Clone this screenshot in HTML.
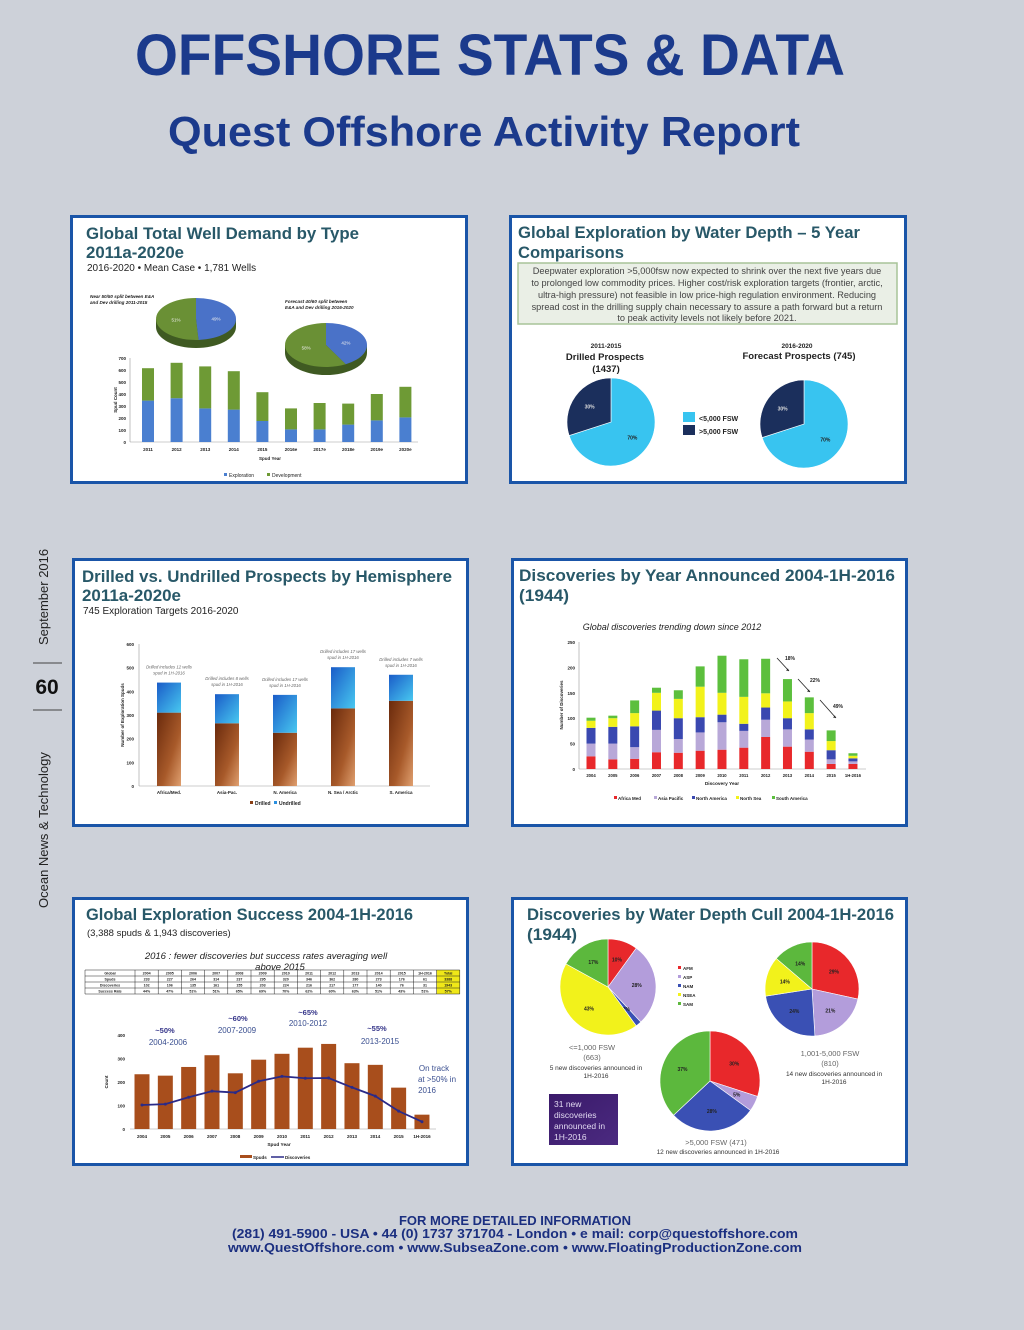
<!DOCTYPE html>
<html><head><meta charset="utf-8"><style>
html,body{margin:0;padding:0;background:#cdd1d9;}
svg{display:block;font-family:"Liberation Sans",sans-serif;}
</style></head><body>
<svg id="pg" width="1024" height="1330" viewBox="0 0 1024 1330" xmlns="http://www.w3.org/2000/svg">
<defs>
<linearGradient id="gDr" x1="0" x2="1" y1="0" y2="1"><stop offset="0" stop-color="#6a2a0c"/><stop offset="0.6" stop-color="#a85a2a"/><stop offset="1" stop-color="#e0a070"/></linearGradient>
<linearGradient id="gUn" x1="0" x2="1" y1="0" y2="1"><stop offset="0" stop-color="#1a5cc8"/><stop offset="1" stop-color="#48c8f0"/></linearGradient>
<linearGradient id="gPurple" x1="0" x2="1" y1="0" y2="1"><stop offset="0" stop-color="#3a1a6a"/><stop offset="1" stop-color="#4b2a80"/></linearGradient>
</defs>
<rect width="1024" height="1330" fill="#cdd1d9"/>
<text x="135" y="75" textLength="710" lengthAdjust="spacingAndGlyphs" font-size="58" font-weight="bold" fill="#1b3a8c">OFFSHORE STATS &amp; DATA</text>
<text x="168" y="146" textLength="632" lengthAdjust="spacingAndGlyphs" font-size="42" font-weight="bold" fill="#1b3a8c">Quest Offshore Activity Report</text>

<g>
<text transform="translate(48,645) rotate(-90)" font-size="13" fill="#222">September 2016</text>
<line x1="33" y1="663" x2="62" y2="663" stroke="#444" stroke-width="1"/>
<text x="47" y="694" text-anchor="middle" font-size="21" font-weight="bold" fill="#111">60</text>
<line x1="33" y1="710" x2="62" y2="710" stroke="#444" stroke-width="1"/>
<text transform="translate(48,908) rotate(-90)" font-size="13" fill="#222">Ocean News &amp; Technology</text>
</g>

<!-- panels -->
<rect x="71.5" y="216.5" width="395" height="266" fill="#fff" stroke="#1a55a8" stroke-width="3"/>
<rect x="510.5" y="216.5" width="395" height="266" fill="#fff" stroke="#1a55a8" stroke-width="3"/>
<rect x="73.5" y="559.5" width="394" height="266" fill="#fff" stroke="#1a55a8" stroke-width="3"/>
<rect x="512.5" y="559.5" width="394" height="266" fill="#fff" stroke="#1a55a8" stroke-width="3"/>
<rect x="73.5" y="898.5" width="394" height="266" fill="#fff" stroke="#1a55a8" stroke-width="3"/>
<rect x="512.5" y="898.5" width="394" height="266" fill="#fff" stroke="#1a55a8" stroke-width="3"/>

<!-- panel titles -->
<g font-weight="bold" fill="#285868" font-size="17">
<text x="86" y="239" textLength="273" lengthAdjust="spacingAndGlyphs">Global Total Well Demand by Type</text>
<text x="86" y="258" textLength="98" lengthAdjust="spacingAndGlyphs">2011a-2020e</text>
<text x="518" y="238" textLength="342" lengthAdjust="spacingAndGlyphs">Global Exploration by Water Depth – 5 Year</text>
<text x="518" y="258" textLength="106" lengthAdjust="spacingAndGlyphs">Comparisons</text>
<text x="82" y="582" textLength="370" lengthAdjust="spacingAndGlyphs">Drilled vs. Undrilled Prospects by Hemisphere</text>
<text x="82" y="601" textLength="99" lengthAdjust="spacingAndGlyphs">2011a-2020e</text>
<text x="519" y="581" textLength="376" lengthAdjust="spacingAndGlyphs">Discoveries by Year Announced 2004-1H-2016</text>
<text x="519" y="601" textLength="50" lengthAdjust="spacingAndGlyphs">(1944)</text>
<text x="86" y="920" textLength="327" lengthAdjust="spacingAndGlyphs">Global Exploration Success 2004-1H-2016</text>
<text x="527" y="920" textLength="367" lengthAdjust="spacingAndGlyphs">Discoveries by Water Depth Cull 2004-1H-2016</text>
<text x="527" y="940" textLength="50" lengthAdjust="spacingAndGlyphs">(1944)</text>
</g>
<g fill="#222" font-size="10">
<text x="87" y="271">2016-2020 • Mean Case • 1,781 Wells</text>
<text x="83" y="614">745 Exploration Targets 2016-2020</text>
<text x="87" y="936" font-size="9.5">(3,388 spuds &amp; 1,943 discoveries)</text>
</g>

<!-- chart2 text box -->
<g>
<rect x="518" y="263" width="379" height="61" fill="#eaefe6" stroke="#a8c498" stroke-width="1.5"/>
<g font-size="9.2" fill="#444" text-anchor="middle">
<text x="707" y="274">Deepwater exploration &gt;5,000fsw now expected to shrink over the next five years due</text>
<text x="707" y="286">to prolonged low commodity prices. Higher cost/risk exploration targets (frontier, arctic,</text>
<text x="707" y="298">ultra-high pressure) not feasible in low price-high regulation environment. Reducing</text>
<text x="707" y="310">spread cost in the drilling supply chain necessary to assure a path forward but a return</text>
<text x="707" y="321">to peak activity levels not likely before 2021.</text>
</g></g>
<g text-anchor="middle" font-weight="bold" fill="#222">
<text x="606" y="348" font-size="6.5">2011-2015</text>
<text x="605" y="360" font-size="9.5">Drilled Prospects</text>
<text x="606" y="372" font-size="9.5">(1437)</text>
<text x="797" y="348" font-size="6.5">2016-2020</text>
<text x="799" y="359" font-size="9.5">Forecast Prospects (745)</text>
</g>
<g>
<rect x="683" y="412" width="12" height="10" fill="#38c4f0"/>
<text x="699" y="421" font-size="7" font-weight="bold" fill="#222">&lt;5,000 FSW</text>
<rect x="683" y="425" width="12" height="10" fill="#1b2f5c"/>
<text x="699" y="434" font-size="7" font-weight="bold" fill="#222">&gt;5,000 FSW</text>
</g>

<!-- chart5 text -->
<text x="266" y="959" text-anchor="middle" font-size="9.5" font-style="italic" fill="#222">2016 : fewer discoveries but success rates averaging well</text>
<text x="280" y="970" text-anchor="middle" font-size="9.5" font-style="italic" fill="#222">above 2015</text>
<g id="tbl"></g>

<g id="charts"></g>

<!-- chart6 extras -->
<g font-size="6.5" fill="#333" text-anchor="middle">
<text x="592" y="1050" font-size="7.5" fill="#666">&lt;=1,000 FSW</text>
<text x="592" y="1060" font-size="7.5" fill="#666">(663)</text>
<text x="596" y="1070">5 new discoveries announced in</text>
<text x="596" y="1078">1H-2016</text>
<text x="830" y="1056" font-size="7.5" fill="#666">1,001-5,000 FSW</text>
<text x="830" y="1066" font-size="7.5" fill="#666">(810)</text>
<text x="834" y="1076">14 new discoveries announced in</text>
<text x="834" y="1084">1H-2016</text>
<text x="716" y="1145" font-size="7.5" fill="#666">&gt;5,000 FSW (471)</text>
<text x="718" y="1154">12 new discoveries announced in 1H-2016</text>
</g>
<g>
<rect x="549" y="1094" width="69" height="51" fill="url(#gPurple)"/>
<g font-size="8.5" fill="#e0d8f0"><text x="554" y="1107">31 new</text><text x="554" y="1118">discoveries</text><text x="554" y="1129">announced in</text><text x="554" y="1140">1H-2016</text></g>
</g>

<!-- footer -->
<g text-anchor="middle" font-weight="bold" fill="#1b2f80" font-size="13">
<text x="515" y="1225">FOR MORE DETAILED INFORMATION</text>
<text x="515" y="1238" textLength="566" lengthAdjust="spacingAndGlyphs">(281) 491-5900 - USA  •  44 (0) 1737 371704 - London  •  e mail: corp@questoffshore.com</text>
<text x="515" y="1252" textLength="574" lengthAdjust="spacingAndGlyphs">www.QuestOffshore.com  •  www.SubseaZone.com  •  www.FloatingProductionZone.com</text>
</g>
</svg>
<script>
// ---------- DATA ----------
const c1Years = ["2011","2012","2013","2014","2015","2016e","2017e","2018e","2019e","2020e"];
const c1Exploration = [345,365,280,270,175,105,105,145,180,205];
const c1Development = [270,295,350,320,240,175,220,175,220,255];
const c1Ticks = [0,100,200,300,400,500,600,700];
const c1Pie1 = [49,51];
const c1Pie2 = [42,58];

const c2Drilled = [70,30];
const c2Forecast = [70,30];

const c3Regions = ["Africa/Med.","Asia-Pac.","N. America","N. Sea / Arctic","S. America"];
const c3Drilled = [310,265,225,328,360];
const c3Undrilled = [127,123,160,174,110];
const c3Ticks = [0,100,200,300,400,500,600];
const c3Notes = [["Drilled includes 12 wells","spud in 1H-2016"],["Drilled includes 8 wells","spud in 1H-2016"],["Drilled includes 17 wells","spud in 1H-2016"],["Drilled includes 17 wells","spud in 1H-2016"],["Drilled includes 7 wells","spud in 1H-2016"]];

const c4Years = ["2004","2005","2006","2007","2008","2009","2010","2011","2012","2013","2014","2015","1H-2016"];
const c4Africa = [25,19,20,33,32,36,38,42,63,44,34,10,10];
const c4AsiaPac = [25,31,23,44,27,36,54,33,34,34,24,9,5];
const c4NAmerica = [31,33,41,38,41,30,15,14,24,22,20,18,6];
const c4NorthSea = [14,17,26,35,38,60,43,53,28,33,32,18,5];
const c4SAmerica = [6,5,25,10,17,40,73,74,68,44,31,21,5];
const c4Ticks = [0,50,100,150,200,250];
const c4SeriesNames = ["Africa Med","Asia Pacific","North America","North Sea","South America"];

const c5Years = ["2004","2005","2006","2007","2008","2009","2010","2011","2012","2013","2014","2015","1H-2016"];
const c5Spuds = [233,227,264,314,237,295,320,346,362,280,273,176,61];
const c5Discoveries = [102,106,135,161,155,203,224,216,217,177,140,76,31];
const c5Ticks = [0,100,200,300,400];
const c5Rates = ["44%","47%","51%","51%","65%","69%","70%","62%","60%","63%","51%","43%","51%"];

const c6Names = ["AFM","ASP","NAM","NSEA","SAM"];
const c6PieShallow = [10,28,2,43,17];
const c6PieMid = [29,21,24,14,14];
const c6PieDeep = [30,5,28,0,37];

// ---------- helpers ----------
const NS = "http://www.w3.org/2000/svg";
const root = document.getElementById('charts');
function el(tag, attrs, parent){
  const e = document.createElementNS(NS, tag);
  for (const k in attrs) e.setAttribute(k, attrs[k]);
  (parent || root).appendChild(e);
  return e;
}
function txt(x,y,s,size,extra,parent){
  const t = el('text', Object.assign({x:x,y:y,'font-size':size,fill:'#222'}, extra||{}), parent);
  t.textContent = s; return t;
}
function arcPath(cx,cy,rx,ry,a0,a1){
  const p0=[cx+rx*Math.sin(a0), cy-ry*Math.cos(a0)];
  const p1=[cx+rx*Math.sin(a1), cy-ry*Math.cos(a1)];
  const large = (a1-a0)>Math.PI?1:0;
  return `M${cx},${cy} L${p0[0]},${p0[1]} A${rx},${ry} 0 ${large} 1 ${p1[0]},${p1[1]} Z`;
}
function pie(cx,cy,r,vals,colors,labels,labelColors,parent,namePrefix,rStart){
  let a = rStart||0; const tot = vals.reduce((s,v)=>s+v,0);
  vals.forEach((v,i)=>{
    if (v<=0) return;
    const a1 = a + v/tot*2*Math.PI;
    const p = el('path',{d:arcPath(cx,cy,r,r,a,a1),fill:colors[i],stroke:'#fff','stroke-width':0.6},parent);
    
    
    if (labels){
      const m=(a+a1)/2;
      const t = txt(cx+r*0.6*Math.sin(m), cy-r*0.6*Math.cos(m)+2, labels[i], 5, {'text-anchor':'middle','font-weight':'bold',fill:labelColors?labelColors[i]:'#222'}, parent);
    }
    a = a1;
  });
}

// ---------- chart1 ----------
(function(){
  const g = el('g',{});
  
  
  const y0=442, h=84/700, x=i=>148+i*28.6, y=v=>y0-v*h;
  c1Ticks.forEach(t=>{ txt(126,y(t)+2,String(t),4.5,{'text-anchor':'end','font-weight':'bold'},g); });
  el('line',{x1:130,y1:y0,x2:418,y2:y0,stroke:'#999','stroke-width':0.6},g);
  el('line',{x1:130,y1:y(700),x2:130,y2:y0,stroke:'#999','stroke-width':0.6},g);
  c1Years.forEach((yr,i)=>{
    const b1=el('rect',{x:x(i)-6,y:y(c1Exploration[i]),width:12,height:c1Exploration[i]*h,fill:'#4a7fd0'},g);
    
    
    const tot=c1Exploration[i]+c1Development[i];
    const b2=el('rect',{x:x(i)-6,y:y(tot),width:12,height:c1Development[i]*h,fill:'#6e9a35'},g);
    
    
    txt(x(i),y0+9,yr,4.5,{'text-anchor':'middle','font-weight':'bold'},g);
  });
  txt(270,460,'Spud Year',4.5,{'text-anchor':'middle','font-weight':'bold'},g);
  txt(0,0,'Spud Count',4.5,{'text-anchor':'middle','font-weight':'bold',transform:'translate(117,400) rotate(-90)'},g);
  el('rect',{x:224,y:473,width:3,height:3,fill:'#4a7fd0'},g);
  txt(229,477,'Exploration',5,{},g);
  el('rect',{x:267,y:473,width:3,height:3,fill:'#6e9a35'},g);
  txt(272,477,'Development',5,{},g);
  // 3D pies
  function pie3d(cx,cy,rx,ry,vals,lbl){
    el('ellipse',{cx:cx,cy:cy+8,rx:rx,ry:ry,fill:'#3f5a22'},g);
    el('rect',{x:cx-rx,y:cy,width:2*rx,height:8,fill:'#3f5a22'},g);
    let a=0; const tot=vals[0]+vals[1];
    const cols=['#4a72c8','#6a9035'];
    vals.forEach((v,i)=>{
      const a1=a+v/tot*2*Math.PI;
      const p=el('path',{d:arcPath(cx,cy,rx,ry,a,a1),fill:cols[i]},g);
      
      
      const m=(a+a1)/2;
      txt(cx+rx*0.5*Math.sin(m),cy-ry*0.5*Math.cos(m)+2,v+'%',4.5,{'text-anchor':'middle',fill:'#eee'},g);
      a=a1;
    });
  }
  pie3d(196,319,40,21,c1Pie1);
  pie3d(326,345,41,22,c1Pie2);
  txt(90,298,'Near 50/50 split between E&A',4.6,{'font-style':'italic','font-weight':'bold'},g);
  txt(90,304,'and Dev drilling 2011-2015',4.6,{'font-style':'italic','font-weight':'bold'},g);
  txt(285,303,'Forecast 40/60 split between',4.6,{'font-style':'italic','font-weight':'bold'},g);
  txt(285,309,'E&A and Dev drilling 2016-2020',4.6,{'font-style':'italic','font-weight':'bold'},g);
})();

// ---------- chart2 ----------
(function(){
  const g = el('g',{});
  
  
  const cols=['#38c4f0','#1b2f5c'];
  pie(611,422,44,c2Drilled,cols,[c2Drilled[0]+'%',c2Drilled[1]+'%'],['#222','#ddd'],g,'pie-drilled',0);
  pie(804,424,44,c2Forecast,cols,[c2Forecast[0]+'%',c2Forecast[1]+'%'],['#222','#ddd'],g,'pie-forecast',0);
})();

// ---------- chart3 ----------
(function(){
  const g = el('g',{});
  
  
  const y0=786, h=142/600, xs=i=>169+i*58, y=v=>y0-v*h;
  c3Ticks.forEach(t=>txt(134,y(t)+2,String(t),4.5,{'text-anchor':'end','font-weight':'bold'},g));
  el('line',{x1:139,y1:y(600),x2:139,y2:y0,stroke:'#999','stroke-width':0.6},g);
  el('line',{x1:139,y1:y0,x2:430,y2:y0,stroke:'#999','stroke-width':0.6},g);
  c3Regions.forEach((r,i)=>{
    const b1=el('rect',{x:xs(i)-12,y:y(c3Drilled[i]),width:24,height:c3Drilled[i]*h,fill:'url(#gDr)'},g);
    
    
    const tot=c3Drilled[i]+c3Undrilled[i];
    const b2=el('rect',{x:xs(i)-12,y:y(tot),width:24,height:c3Undrilled[i]*h,fill:'url(#gUn)'},g);
    
    
    txt(xs(i),y0+8,r,4.5,{'text-anchor':'middle','font-weight':'bold'},g);
    txt(xs(i),y(tot)-14,c3Notes[i][0],4.3,{'text-anchor':'middle','font-style':'italic',fill:'#666'},g);
    txt(xs(i),y(tot)-8,c3Notes[i][1],4.3,{'text-anchor':'middle','font-style':'italic',fill:'#666'},g);
  });
  txt(0,0,'Number of Exploration Spuds',4.5,{'text-anchor':'middle','font-weight':'bold',transform:'translate(124,715) rotate(-90)'},g);
  el('rect',{x:250,y:801,width:3,height:3,fill:'#8a3e14'},g);
  txt(255,805,'Drilled',5,{'font-weight':'bold'},g);
  el('rect',{x:274,y:801,width:3,height:3,fill:'#2a90e0'},g);
  txt(279,805,'Undrilled',5,{'font-weight':'bold'},g);
})();

// ---------- chart4 ----------
(function(){
  const g = el('g',{});
  
  
  const y0=769, h=127/250, xs=i=>591+i*21.83, y=v=>y0-v*h;
  const series=[c4Africa,c4AsiaPac,c4NAmerica,c4NorthSea,c4SAmerica];
  const cols=['#e8282b','#b8a8d8','#3a48b0','#f2f21b','#5cbf3d'];
  c4Ticks.forEach(t=>txt(575,y(t)+2,String(t),4.5,{'text-anchor':'end','font-weight':'bold'},g));
  el('line',{x1:579,y1:y(250),x2:579,y2:y0,stroke:'#999','stroke-width':0.6},g);
  el('line',{x1:579,y1:y0,x2:866,y2:y0,stroke:'#999','stroke-width':0.6},g);
  c4Years.forEach((yr,i)=>{
    let acc=0;
    series.forEach((s,k)=>{
      const b=el('rect',{x:xs(i)-4.5,y:y(acc+s[i]),width:9,height:s[i]*h,fill:cols[k]},g);
      
      
      acc+=s[i];
    });
    txt(xs(i),y0+8,yr,4.2,{'text-anchor':'middle','font-weight':'bold'},g);
  });
  txt(722,785,'Discovery Year',4.8,{'text-anchor':'middle','font-weight':'bold'},g);
  txt(0,0,'Number of Discoveries',4.5,{'text-anchor':'middle','font-weight':'bold',transform:'translate(563,705) rotate(-90)'},g);
  txt(672,630,'Global discoveries trending down since 2012',9,{'text-anchor':'middle','font-style':'italic'},g);
  c4SeriesNames.forEach((n,k)=>{
    const lx=[614,654,692,736,772][k];
    el('rect',{x:lx,y:796,width:3,height:3,fill:cols[k]},g);
    txt(lx+4,800,n,4.5,{'font-weight':'bold'},g);
  });
  // arrows
  [[777,658,789,671,'18%',785,660],[798,679,810,692,'22%',810,682],[820,700,836,718,'49%',833,708]].forEach(a=>{
    el('line',{x1:a[0],y1:a[1],x2:a[2],y2:a[3],stroke:'#222','stroke-width':0.8},g);
    el('path',{d:`M${a[2]},${a[3]} l-3,-0.5 l2,-2 z`,fill:'#222'},g);
    txt(a[5],a[6],a[4],5,{'font-weight':'bold'},g);
  });
})();

// ---------- chart5 ----------
(function(){
  const g = el('g',{});
  
  
  const y0=1129, h=94/400, xs=i=>142+i*23.33, y=v=>y0-v*h;
  c5Ticks.forEach(t=>txt(125,y(t)+2,String(t),4.5,{'text-anchor':'end','font-weight':'bold'},g));
  el('line',{x1:130,y1:y0,x2:436,y2:y0,stroke:'#999','stroke-width':0.6},g);
  c5Years.forEach((yr,i)=>{
    const b=el('rect',{x:xs(i)-7.5,y:y(c5Spuds[i]),width:15,height:c5Spuds[i]*h,fill:'#a84e1c'},g);
    
    
    txt(xs(i),y0+9,yr,4.5,{'text-anchor':'middle','font-weight':'bold'},g);
  });
  const pts=c5Discoveries.map((v,i)=>xs(i)+','+y(v)).join(' ');
  const ln=el('polyline',{points:pts,fill:'none',stroke:'#2a2a88','stroke-width':1.8},g);
  
  
  c5Discoveries.forEach((v,i)=>{
    const d=el('circle',{cx:xs(i),cy:y(v),r:1.5,fill:'#2a2a88'},g);
    
    
  });
  txt(279,1146,'Spud Year',4.8,{'text-anchor':'middle','font-weight':'bold'},g);
  txt(0,0,'Count',4.5,{'text-anchor':'middle','font-weight':'bold',transform:'translate(108,1082) rotate(-90)'},g);
  el('rect',{x:240,y:1155,width:12,height:3,fill:'#a84e1c'},g);
  txt(253,1159,'Spuds',4.5,{'font-weight':'bold'},g);
  el('line',{x1:271,y1:1157,x2:284,y2:1157,stroke:'#2a2a88','stroke-width':1.5},g);
  txt(285,1159,'Discoveries',4.5,{'font-weight':'bold'},g);
  const ann=[[165,1033,'~50%',true],[168,1045,'2004-2006',false],[238,1021,'~60%',true],[237,1033,'2007-2009',false],[308,1015,'~65%',true],[308,1026,'2010-2012',false],[377,1031,'~55%',true],[380,1044,'2013-2015',false],[434,1071,'On track',false],[437,1082,'at >50% in',false],[427,1093,'2016',false]];
  ann.forEach(a=>txt(a[0],a[1],a[2],a[3]?7.5:8,{'text-anchor':a[0]>420?'middle':'middle','font-weight':a[3]?'bold':'normal',fill:a[3]?'#36368a':'#3a4f90'},g));
  // table
  const tg=document.getElementById('tbl');
  const tx0=85, cw=23.2, firstW=50, ty0=970, rh=6;
  const rows=[["Global"].concat(c5Years).concat(["Total"]),
    ["Spuds"].concat(c5Spuds.map(String)).concat(["3388"]),
    ["Discoveries"].concat(c5Discoveries.map(String)).concat(["1943"]),
    ["Success Rate"].concat(c5Rates).concat(["57%"])];
  const total=tx0+firstW+14*cw;
  el('rect',{x:total-cw,y:ty0,width:cw,height:4*rh,fill:'#f0e818'},tg);
  rows.forEach((r,ri)=>{
    r.forEach((c,ci)=>{
      const cx = ci===0? tx0+firstW/2 : tx0+firstW+(ci-1)*cw+cw/2;
      txt(cx,ty0+ri*rh+4.5,c,3.6,{'text-anchor':'middle','font-weight':'bold'},tg);
    });
  });
  for(let ri=0;ri<=4;ri++) el('line',{x1:tx0,y1:ty0+ri*rh,x2:total,y2:ty0+ri*rh,stroke:'#222','stroke-width':0.5},tg);
  el('line',{x1:tx0,y1:ty0,x2:tx0,y2:ty0+4*rh,stroke:'#222','stroke-width':0.5},tg);
  for(let ci=0;ci<=14;ci++){const xx=tx0+firstW+ci*cw; el('line',{x1:xx,y1:ty0,x2:xx,y2:ty0+4*rh,stroke:'#222','stroke-width':0.5},tg);}
})();

// ---------- chart6 ----------
(function(){
  const g = el('g',{});
  
  
  const cols=['#e8282b','#b39ddb','#3a50b4','#f2f21b','#5cb83d'];
  const lab=v=>v.map(x=>x>0?x+'%':'');
  pie(608,987,48,c6PieShallow,cols,lab(c6PieShallow),null,g,'pie-shallow',0);
  pie(812,989,47,c6PieMid,cols,lab(c6PieMid),null,g,'pie-mid',0);
  pie(710,1081,50,c6PieDeep,cols,lab(c6PieDeep),null,g,'pie-deep',0);
  c6Names.forEach((n,k)=>{
    el('rect',{x:678,y:966+k*9,width:3,height:3,fill:cols[k]},g);
    txt(683,970+k*9,n,4.5,{'font-weight':'bold'},g);
  });
})();
</script>
</body></html>
